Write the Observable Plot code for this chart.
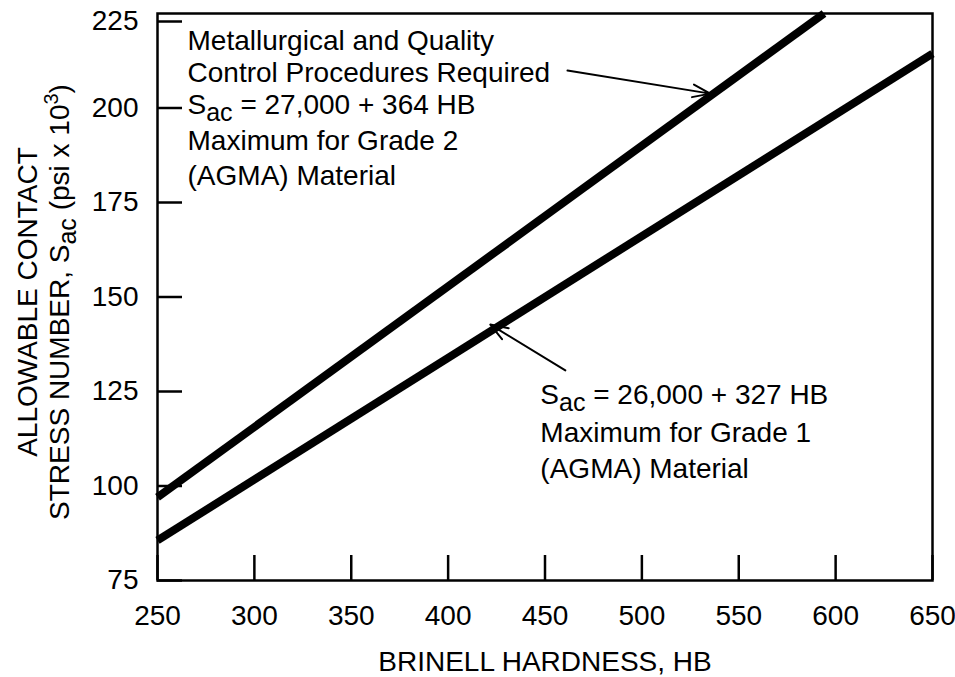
<!DOCTYPE html>
<html>
<head>
<meta charset="utf-8">
<script src="https://cdn.jsdelivr.net/npm/d3@7"></script>
<script src="https://cdn.jsdelivr.net/npm/@observablehq/plot@0.6"></script>
<style>
  html, body { margin: 0; padding: 0; background: #ffffff; }
  #chart svg { display: block; }
</style>
</head>
<body>
<div id="chart"></div>
<script>
// ---- data ----
const hardnessTicks = [250, 300, 350, 400, 450, 500, 550, 600, 650];
const stressTicks = [75, 100, 125, 150, 175, 200];
const stressTopTick = [225];

// Grade 2 line (upper), clipped by the top of the frame
const grade2HB = [250, 594];
const grade2Stress = [97, 225];
// Grade 1 line (lower)
const grade1HB = [250, 650];
const grade1Stress = [85.6, 214.4];

// annotation text lines ("_{..}" = subscript, "^{..}" = superscript)
const upperNote = [
  "Metallurgical and Quality",
  "Control Procedures Required",
  "S_{ac} = 27,000 + 364 HB",
  "Maximum for Grade 2",
  "(AGMA) Material"
];
const upperNoteHB = [265.5, 265.5, 265.5, 265.5, 265.5];
const upperNoteStress = [215.3, 207.0, 198.3, 188.8, 179.5];

const lowerNote = [
  "S_{ac} = 26,000 + 327 HB",
  "Maximum for Grade 1",
  "(AGMA) Material"
];
const lowerNoteHB = [447.6, 447.6, 447.6];
const lowerNoteStress = [121.8, 111.7, 102.0];

// leader arrows
const arrowFromHB = [461.6, 460.5];
const arrowFromStress = [209.9, 130.6];
const arrowToHB = [535.3, 421.8];
const arrowToStress = [203.8, 142.7];

const xLabel = "BRINELL HARDNESS, HB";
const yLabel1 = "ALLOWABLE CONTACT";
const yLabel2 = "STRESS NUMBER, S_{ac} (psi x 10^{3})";

// ---- tables built from the arrays ----
const lineRows = [
  ...grade2HB.map((hb, i) => ({series: "Grade 2", hb, s: grade2Stress[i]})),
  ...grade1HB.map((hb, i) => ({series: "Grade 1", hb, s: grade1Stress[i]}))
];
const noteRows = [
  ...upperNote.map((t, i) => ({t, hb: upperNoteHB[i], s: upperNoteStress[i]})),
  ...lowerNote.map((t, i) => ({t, hb: lowerNoteHB[i], s: lowerNoteStress[i]}))
];
const arrowRows = arrowFromHB.map((hb, i) => ({
  x1: hb, y1: arrowFromStress[i], x2: arrowToHB[i], y2: arrowToStress[i]
}));

const FONT = "'Liberation Sans', Arial, Helvetica, sans-serif";

const chart = Plot.plot({
  width: 955,
  height: 677,
  marginLeft: 157,
  marginRight: 23,
  marginTop: 13,
  marginBottom: 97,
  style: {fontFamily: FONT, fontSize: "28px", color: "black", background: "white", overflow: "visible"},
  x: {domain: [250, 650]},
  y: {domain: [75, 225]},
  marks: [
    Plot.axisX(hardnessTicks, {tickSize: -25, tickPadding: 50, strokeWidth: 2.5, label: null, fontSize: 28}),
    Plot.axisY(stressTicks, {tickSize: -25, tickPadding: 44, strokeWidth: 2.5, label: null, fontSize: 28}),
    Plot.axisY(stressTopTick, {tickSize: -25, tickPadding: 44, strokeWidth: 2.5, label: null, fontSize: 28, dy: 8}),
    Plot.frame({stroke: "black", strokeWidth: 2.5}),
    Plot.line(lineRows, {x: "hb", y: "s", z: "series", stroke: "black", strokeWidth: 8, strokeLinecap: "butt"}),
    Plot.arrow(arrowRows, {x1: "x1", y1: "y1", x2: "x2", y2: "y2", stroke: "black", strokeWidth: 2, headLength: 14, headAngle: 40}),
    Plot.text(noteRows, {x: "hb", y: "s", text: "t", textAnchor: "start", lineAnchor: "bottom", fontSize: 28, fill: "black"}),
    Plot.text([xLabel], {text: d => d, frameAnchor: "bottom", dy: 90, lineAnchor: "bottom", fontSize: 28, fill: "black"}),
    Plot.text([yLabel1], {text: d => d, frameAnchor: "left", textAnchor: "middle", rotate: -90, dx: -121, dy: 5, lineAnchor: "bottom", fontSize: 28, fill: "black"}),
    Plot.text([yLabel2], {text: d => d, frameAnchor: "left", textAnchor: "middle", rotate: -90, dx: -89, dy: 5, lineAnchor: "bottom", fontSize: 28, fill: "black"})
  ]
});

// turn "_{..}" / "^{..}" markup into real subscript / superscript tspans
const NS = "http://www.w3.org/2000/svg";
chart.querySelectorAll("text").forEach(el => {
  const s = el.textContent;
  if (!/[_^]\{/.test(s)) return;
  const parts = s.split(/([_^]\{[^}]*\})/).filter(p => p.length);
  el.textContent = "";
  let shift = 0;
  for (const p of parts) {
    const t = document.createElementNS(NS, "tspan");
    let target = 0, content = p;
    if (p.startsWith("_{")) { target = 7; content = p.slice(2, -1); t.setAttribute("font-size", "25"); }
    else if (p.startsWith("^{")) { target = -11; content = p.slice(2, -1); t.setAttribute("font-size", "20"); }
    const d = target - shift;
    if (d !== 0) t.setAttribute("dy", d);
    shift = target;
    t.textContent = content;
    el.appendChild(t);
  }
});

document.getElementById("chart").appendChild(chart);
</script>
</body>
</html>
